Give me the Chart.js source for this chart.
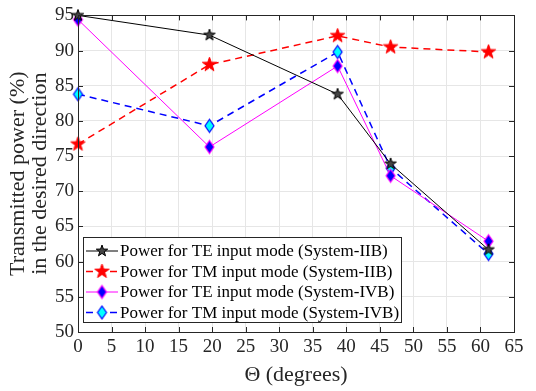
<!DOCTYPE html>
<html>
<head>
<meta charset="utf-8">
<script src="https://cdn.jsdelivr.net/npm/chart.js@4.4.1/dist/chart.umd.min.js"></script>
<style>
  html, body { margin: 0; padding: 0; background: #fff; }
</style>
</head>
<body>
<canvas id="powerChart" width="536" height="391"></canvas>
<script>
// Data
const angles = [0, 19.6, 38.7, 46.6, 61.2];
const teSystemIIB = [95.0, 92.2, 83.8, 73.9, 61.7];
const tmSystemIIB = [76.7, 88.0, 92.1, 90.5, 89.8];
const teSystemIVB = [94.4, 76.3, 87.8, 72.2, 62.9];
const tmSystemIVB = [83.8, 79.3, 89.8, 73.3, 61.1];
const xTicks = [0, 5, 10, 15, 20, 25, 30, 35, 40, 45, 50, 55, 60, 65];
const yTicks = [50, 55, 60, 65, 70, 75, 80, 85, 90, 95];
const seriesLabels = [
  "Power for TE input mode (System-IIB)",
  "Power for TM input mode (System-IIB)",
  "Power for TE input mode (System-IVB)",
  "Power for TM input mode (System-IVB)",
];

const FONT = "'Liberation Serif', 'Times New Roman', serif";

// MATLAB style markers drawn onto small canvases
function makeMarker(kind, rx, ry, fill, stroke, lw) {
  const c = document.createElement("canvas");
  const w = Math.ceil(rx * 2 + 4), h = Math.ceil(ry * 2 + 4);
  c.width = w; c.height = h;
  const g = c.getContext("2d");
  const cx = w / 2, cy = h / 2;
  g.beginPath();
  if (kind === "star") {
    for (let i = 0; i < 10; i++) {
      const r = i % 2 ? rx * 0.4 : rx;
      const a = -Math.PI / 2 + i * Math.PI / 5;
      g.lineTo(cx + r * Math.cos(a), cy + r * Math.sin(a));
    }
  } else {
    g.moveTo(cx, cy - ry);
    g.lineTo(cx + rx, cy);
    g.lineTo(cx, cy + ry);
    g.lineTo(cx - rx, cy);
  }
  g.closePath();
  g.fillStyle = fill;
  g.fill();
  g.lineWidth = lw;
  g.strokeStyle = stroke;
  g.stroke();
  return c;
}

const markers = [
  makeMarker("star", 6, 6, "#444", "#000", 1),
  makeMarker("star", 7.5, 7.5, "#ff0000", "#ff0000", 1),
  makeMarker("diamond", 4.5, 6.5, "#0000ff", "#ff00ff", 1.2),
  makeMarker("diamond", 4.5, 6.5, "#00ffff", "#0000ff", 1.2),
];
const lineColors = ["#000000", "#ff0000", "#ff00ff", "#0000ff"];
const lineDash = [[], [7, 5], [], [7, 5]];
const lineWidths = [1, 1.5, 1, 1.5];

const toPoints = (ys) => angles.map((x, i) => ({ x: x, y: ys[i] }));
const allSeries = [teSystemIIB, tmSystemIIB, teSystemIVB, tmSystemIVB];

const datasets = allSeries.map((ys, i) => ({
  label: seriesLabels[i],
  data: toPoints(ys),
  borderColor: lineColors[i],
  borderWidth: lineWidths[i],
  borderDash: lineDash[i],
  pointStyle: markers[i],
  pointRadius: 6,
  tension: 0,
  fill: false,
  clip: false,
}));

// Box, inward ticks and the legend inside the axes
const matlabAxes = {
  id: "matlabAxes",
  afterDraw(chart) {
    const { ctx, chartArea: a, scales } = chart;
    ctx.save();
    ctx.strokeStyle = "#262626";
    ctx.lineWidth = 1;
    ctx.setLineDash([]);
    ctx.beginPath();
    xTicks.forEach((t) => {
      const px = Math.round(scales.x.getPixelForValue(t)) + 0.5;
      ctx.moveTo(px, a.bottom); ctx.lineTo(px, a.bottom - 5);
      ctx.moveTo(px, a.top); ctx.lineTo(px, a.top + 5);
    });
    yTicks.forEach((t) => {
      const py = Math.round(scales.y.getPixelForValue(t)) + 0.5;
      ctx.moveTo(a.left, py); ctx.lineTo(a.left + 5, py);
      ctx.moveTo(a.right, py); ctx.lineTo(a.right - 5, py);
    });
    ctx.stroke();
    ctx.strokeRect(Math.round(a.left) + 0.5, Math.round(a.top) + 0.5,
      Math.round(a.right - a.left), Math.round(a.bottom - a.top));

    // legend
    const lx = 83, ly = 237, lw = 318, lh = 85;
    ctx.fillStyle = "#fff";
    ctx.fillRect(lx, ly, lw, lh);
    ctx.strokeStyle = "#262626";
    ctx.strokeRect(lx + 0.5, ly + 0.5, lw, lh);
    ctx.font = "17px " + FONT;
    ctx.textBaseline = "middle";
    ctx.textAlign = "left";
    chart.data.datasets.forEach((ds, i) => {
      const y = ly + 14 + i * 20.5;
      ctx.beginPath();
      ctx.strokeStyle = ds.borderColor;
      ctx.lineWidth = ds.borderWidth;
      ctx.setLineDash(ds.borderDash);
      ctx.moveTo(lx + 3, y);
      ctx.lineTo(lx + 35, y);
      ctx.stroke();
      ctx.setLineDash([]);
      const m = markers[i];
      ctx.drawImage(m, lx + 19 - m.width / 2, y - m.height / 2);
      ctx.fillStyle = "#000";
      ctx.fillText(ds.label, lx + 37, y + 1);
    });
    ctx.restore();
  },
};

new Chart(document.getElementById("powerChart"), {
  type: "line",
  data: { datasets: datasets },
  options: {
    responsive: false,
    animation: false,
    layout: { padding: { top: 10, right: 22, left: 0, bottom: 0 } },
    plugins: { legend: { display: false }, tooltip: { enabled: false } },
    scales: {
      x: {
        type: "linear",
        min: 0,
        max: 65,
        afterFit: (s) => { s.height = 59; },
        afterBuildTicks: (s) => { s.ticks = xTicks.map((v) => ({ value: v })); },
        grid: { color: "#e6e6e6", drawTicks: false },
        border: { display: false },
        ticks: { padding: 4, color: "#262626", font: { family: FONT, size: 19 } },
        title: {
          display: true,
          text: "\u0398 (degrees)",
          color: "#262626",
          font: { family: FONT, size: 22, lineHeight: 1.1 },
          padding: { top: 0, bottom: 4 },
        },
      },
      y: {
        min: 50,
        max: 95,
        afterFit: (s) => { s.width = 78; },
        afterBuildTicks: (s) => { s.ticks = yTicks.map((v) => ({ value: v })); },
        grid: { color: "#e6e6e6", drawTicks: false },
        border: { display: false },
        ticks: { padding: 4, color: "#262626", font: { family: FONT, size: 19 } },
        title: {
          display: true,
          text: ["Transmitted power (%)", "in the desired direction"],
          color: "#262626",
          font: { family: FONT, size: 22, lineHeight: 1.0 },
          padding: { top: 7, bottom: 0 },
        },
      },
    },
  },
  plugins: [matlabAxes],
});
</script>
</body>
</html>
